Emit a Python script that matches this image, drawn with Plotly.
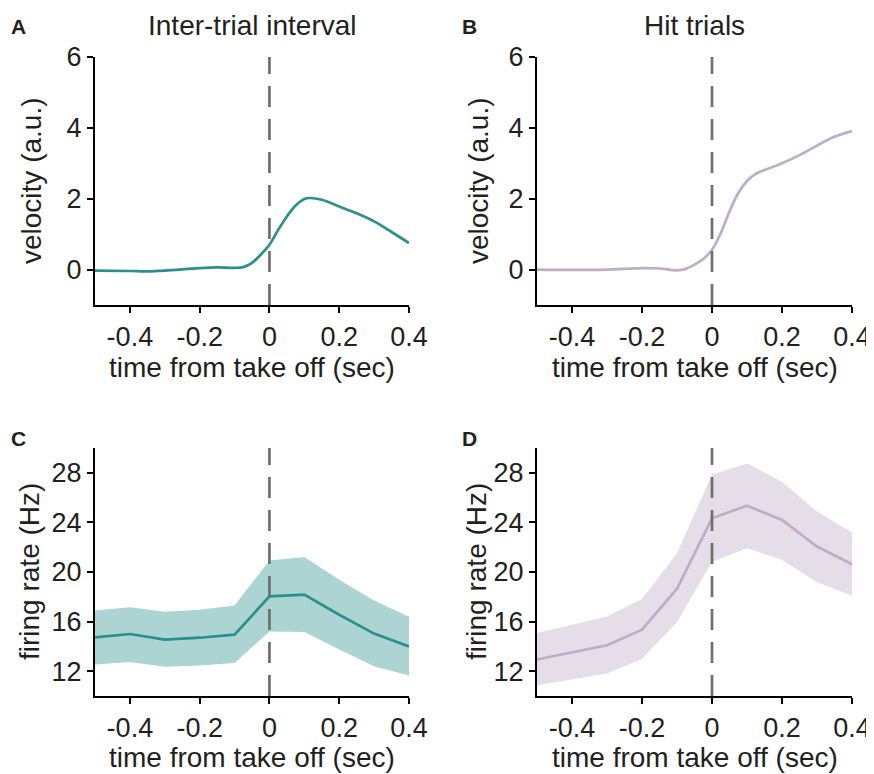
import plotly.graph_objects as go

# ---- data ----
t_vel_iti = [-0.5, -0.4, -0.35, -0.3, -0.2, -0.15, -0.1, -0.075, -0.05, -0.025, 0.0, 0.025, 0.05, 0.075, 0.1, 0.115, 0.15, 0.2, 0.25, 0.3, 0.35, 0.4]
vel_iti = [-0.03, -0.04, -0.05, -0.03, 0.04, 0.06, 0.05, 0.07, 0.19, 0.42, 0.70, 1.12, 1.50, 1.81, 1.99, 2.02, 1.97, 1.78, 1.59, 1.36, 1.06, 0.75]

t_vel_hit = [-0.5, -0.4, -0.3, -0.2, -0.15, -0.1, -0.075, -0.05, -0.025, 0.0, 0.025, 0.05, 0.075, 0.1, 0.125, 0.15, 0.2, 0.25, 0.3, 0.35, 0.4]
vel_hit = [0.0, -0.01, 0.0, 0.04, 0.03, -0.02, 0.02, 0.14, 0.30, 0.56, 1.03, 1.64, 2.16, 2.50, 2.70, 2.81, 3.00, 3.23, 3.50, 3.75, 3.91]

t_fr = [-0.5, -0.4, -0.3, -0.2, -0.1, 0.0, 0.1, 0.2, 0.3, 0.4]
fr_iti = [14.73, 15.0, 14.55, 14.7, 14.95, 18.03, 18.17, 16.55, 15.03, 14.0]
fr_iti_hi = [16.9, 17.15, 16.8, 16.96, 17.3, 20.93, 21.2, 19.37, 17.7, 16.4]
fr_iti_lo = [12.54, 12.75, 12.35, 12.45, 12.67, 15.2, 15.16, 13.74, 12.4, 11.65]

fr_hit = [12.94, 13.5, 14.09, 15.35, 18.65, 24.33, 25.35, 24.2, 22.05, 20.63]
fr_hit_hi = [15.08, 15.75, 16.42, 17.82, 21.52, 27.87, 28.76, 27.28, 24.87, 23.18]
fr_hit_lo = [10.87, 11.33, 11.81, 12.99, 15.97, 20.8, 21.92, 20.98, 19.18, 18.09]

x_ticks = [-0.4, -0.2, 0, 0.2, 0.4]
x_ticklabels = ["-0.4", "-0.2", "0", "0.2", "0.4"]
vel_ticks = [0, 2, 4, 6]
fr_ticks = [12, 16, 20, 24, 28]

panel_titles = ["Inter-trial interval", "Hit trials"]
panel_letters = ["A", "B", "C", "D"]
x_title = "time from take off (sec)"
vel_title = "velocity (a.u.)"
fr_title = "firing rate (Hz)"

TEAL = "rgb(40,145,138)"
TEAL_BAND = "rgb(172,212,210)"
PURPLE = "rgb(190,172,200)"
PURPLE_BAND = "rgb(229,221,232)"
TXT = "#231f20"

FONT = "Liberation Sans, Arial, sans-serif"
OFF = 8                      # page body margin
W, H = 874, 774

fig = go.Figure()

fig.add_trace(go.Scatter(x=t_vel_iti, y=vel_iti, mode="lines", line=dict(color=TEAL, width=2.7, shape="spline"),
                         xaxis="x", yaxis="y", showlegend=False))
fig.add_trace(go.Scatter(x=t_vel_hit, y=vel_hit, mode="lines", line=dict(color=PURPLE, width=2.7, shape="spline"),
                         xaxis="x2", yaxis="y2", showlegend=False))

for xa, ya, lo, hi, mean, lc, bc in [("x3", "y3", fr_iti_lo, fr_iti_hi, fr_iti, TEAL, TEAL_BAND),
                                      ("x4", "y4", fr_hit_lo, fr_hit_hi, fr_hit, PURPLE, PURPLE_BAND)]:
    fig.add_trace(go.Scatter(x=t_fr, y=lo, mode="lines", line=dict(width=0, color=bc),
                             xaxis=xa, yaxis=ya, showlegend=False, hoverinfo="skip"))
    fig.add_trace(go.Scatter(x=t_fr, y=hi, mode="lines", line=dict(width=0, color=bc), fill="tonexty",
                             fillcolor=bc, xaxis=xa, yaxis=ya, showlegend=False, hoverinfo="skip"))
    fig.add_trace(go.Scatter(x=t_fr, y=mean, mode="lines", line=dict(color=lc, width=2.7),
                             xaxis=xa, yaxis=ya, showlegend=False))

# plot areas in screen pixels
L = (95, 409)
R = (537, 852)
T = (57, 305)
B = (448, 696)

def xd(p):
    return [(p[0] - OFF) / W, (p[1] - OFF) / W]

def yd(p):
    return [1 - (p[1] - OFF) / H, 1 - (p[0] - OFF) / H]

axis_common = dict(showline=True, linecolor="black", linewidth=2.2, ticks="outside", ticklen=6, tickwidth=2,
                   tickcolor="black", showgrid=False, zeroline=False, automargin=False,
                   tickfont=dict(family=FONT, size=27, color=TXT))

def xaxis(p, anchor):
    return dict(axis_common, domain=xd(p), anchor=anchor, range=[-0.5, 0.4], tickvals=x_ticks, ticktext=x_ticklabels)

def yaxis(p, anchor, rng, ticks):
    return dict(axis_common, domain=yd(p), anchor=anchor, range=rng, tickvals=ticks)

fig.update_layout(
    template="none",
    width=W, height=H, margin=dict(l=0, r=0, t=0, b=0, autoexpand=False),
    paper_bgcolor="white", plot_bgcolor="white",
    xaxis=xaxis(L, "y"), yaxis=yaxis(T, "x", [-1, 6], vel_ticks),
    xaxis2=xaxis(R, "y2"), yaxis2=yaxis(T, "x2", [-1, 6], vel_ticks),
    xaxis3=xaxis(L, "y3"), yaxis3=yaxis(B, "x3", [10, 30], fr_ticks),
    xaxis4=xaxis(R, "y4"), yaxis4=yaxis(B, "x4", [10, 30], fr_ticks),
)

for xr, yr in [("x", "y"), ("x2", "y2"), ("x3", "y3"), ("x4", "y4")]:
    fig.add_shape(type="line", xref=xr, yref=yr + " domain", x0=0, x1=0, y0=0, y1=1,
                  line=dict(color="#6e6e6e", width=2.7, dash="21px,12px"))

def ann(text, px, py, size, angle=0):
    fig.add_annotation(text=text, x=(px - OFF) / W, y=1 - (py - OFF) / H, xref="paper", yref="paper",
                       showarrow=False, textangle=angle, font=dict(family=FONT, size=size, color=TXT),
                       xanchor="center", yanchor="middle")

ann(panel_titles[0], 252, 25, 28)
ann(panel_titles[1], 694.5, 25, 28)
for letter, px, py in zip(panel_letters, [18, 469, 18, 469], [26, 26, 438, 438]):
    ann("<b>" + letter + "</b>", px, py, 21)

# axis titles
ann(x_title, 252, 368, 28)
ann(x_title, 694.5, 368, 28)
ann(x_title, 252, 757, 28)
ann(x_title, 694.5, 757, 28)
ann(vel_title, 31, 181, 28, -90)
ann(vel_title, 478, 181, 28, -90)
ann(fr_title, 29, 572, 28, -90)
ann(fr_title, 476, 572, 28, -90)

fig.write_html("out.html")
